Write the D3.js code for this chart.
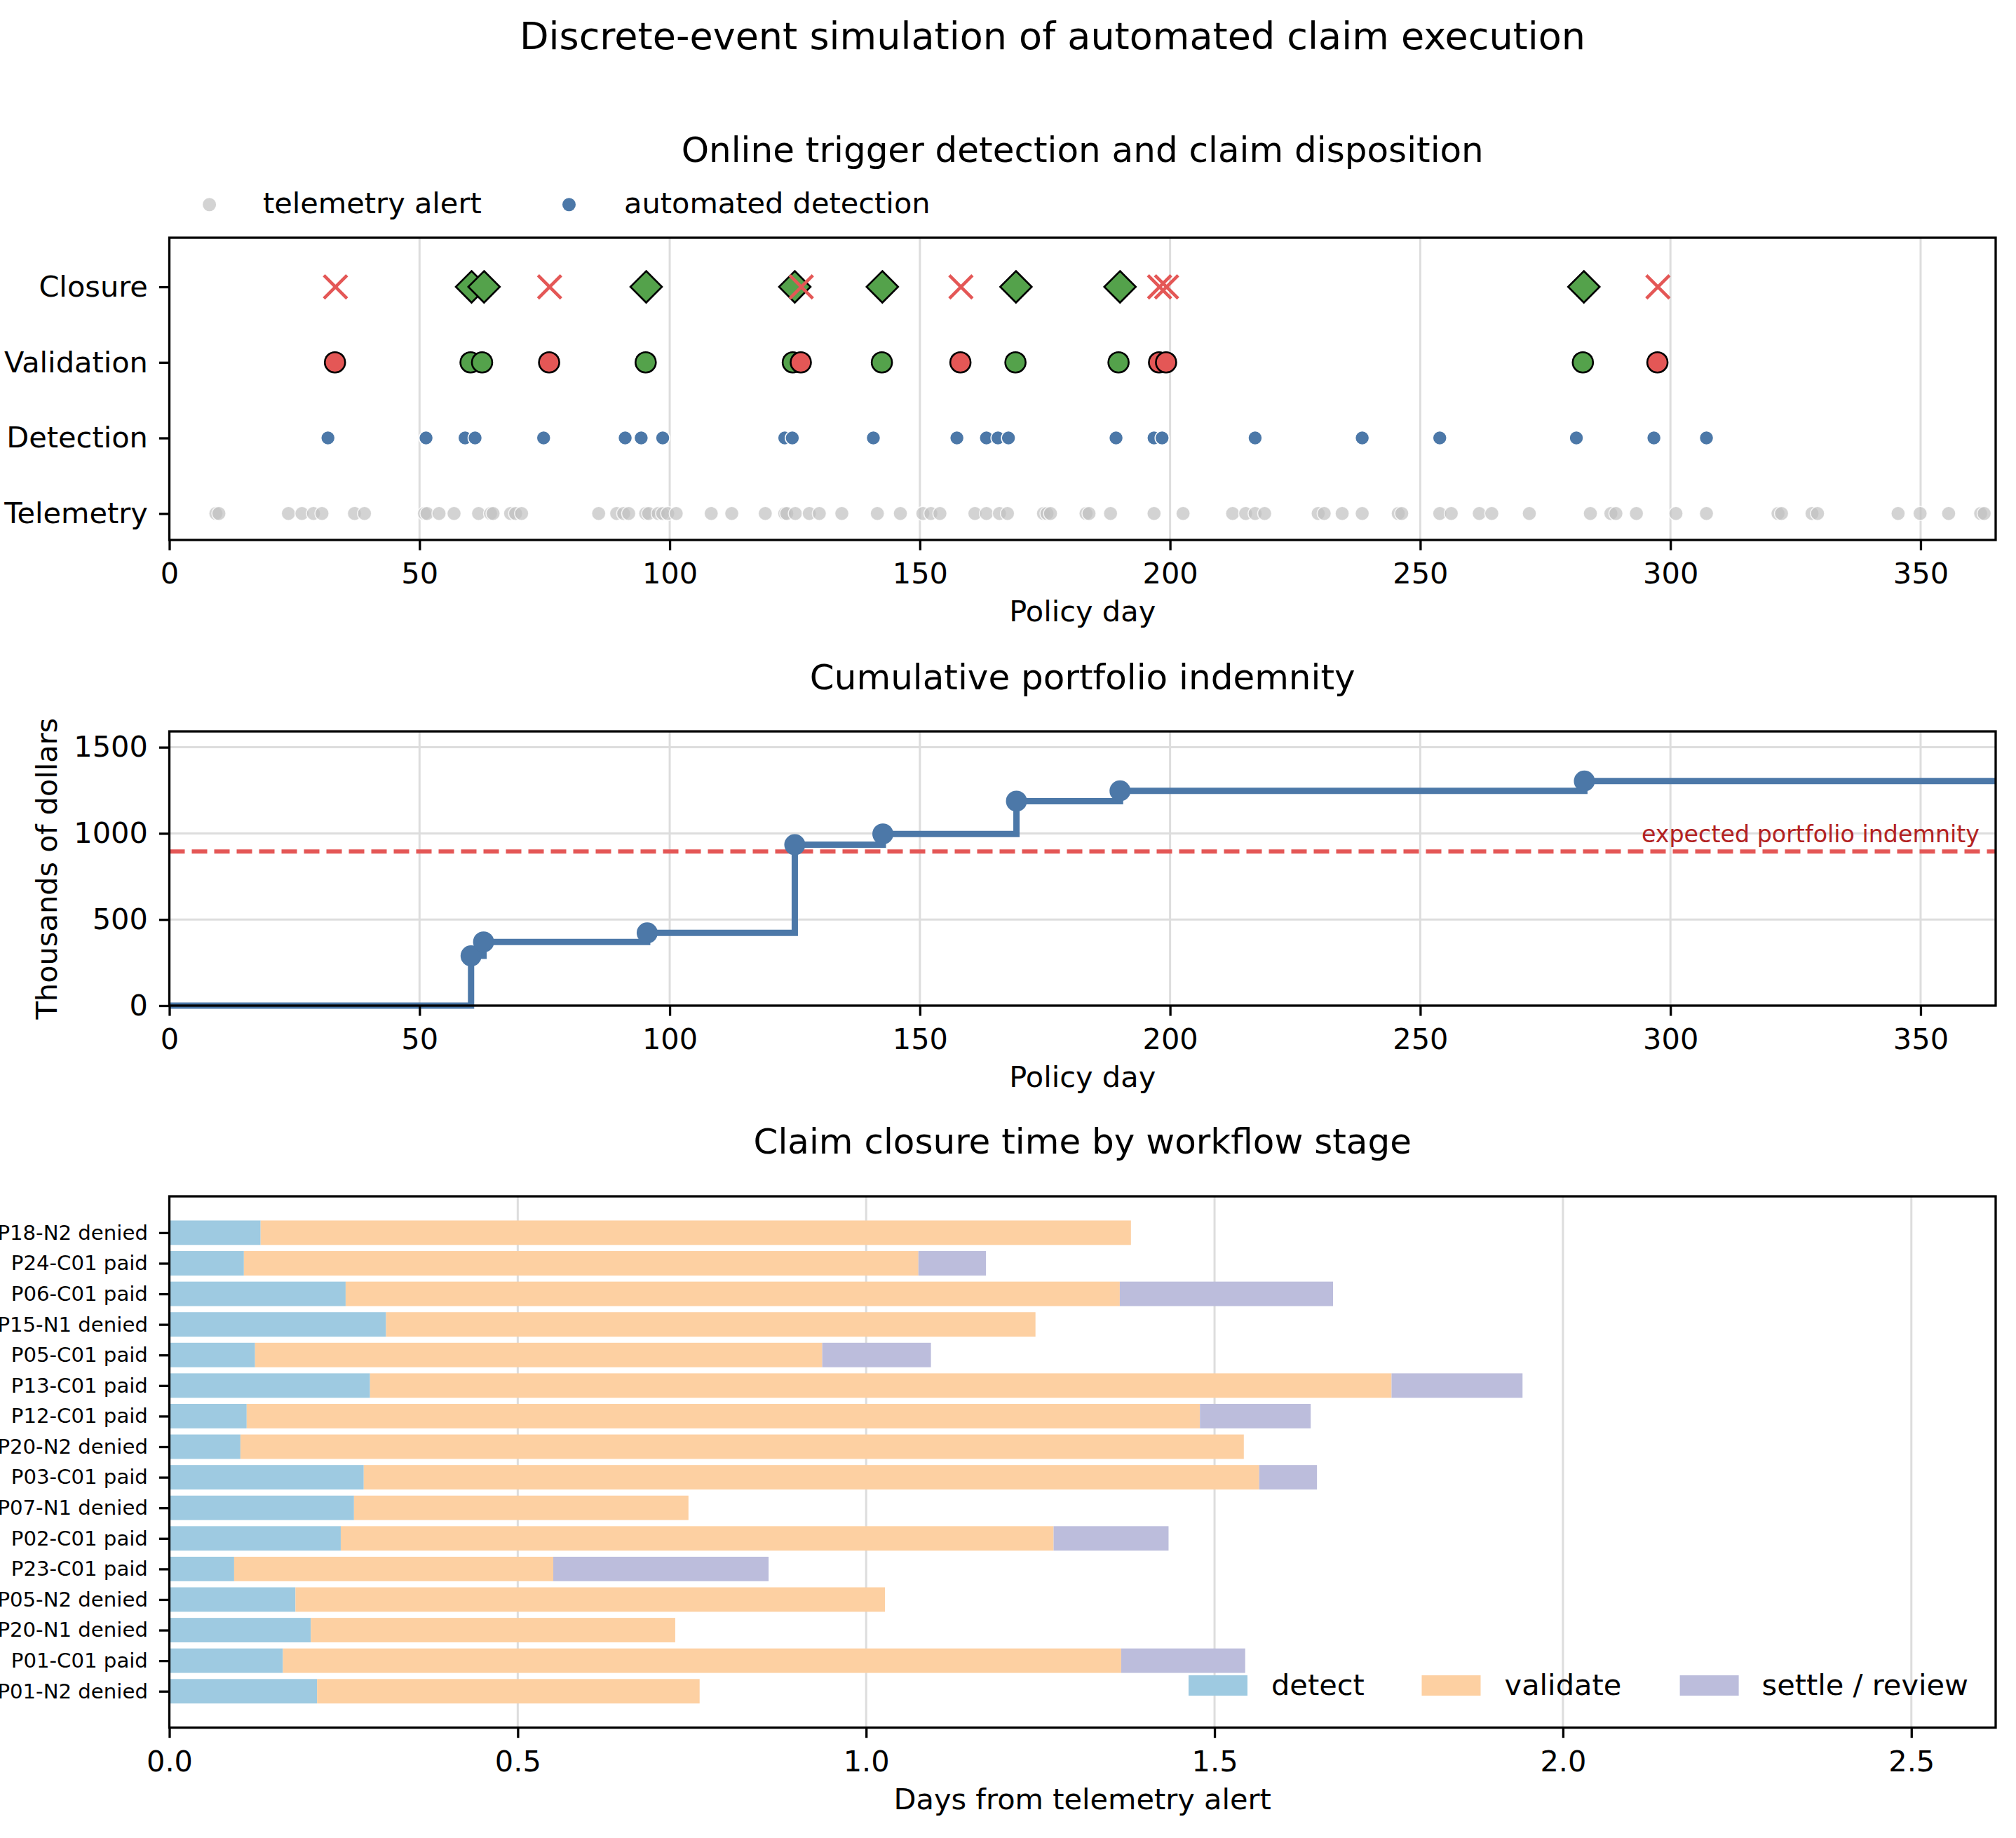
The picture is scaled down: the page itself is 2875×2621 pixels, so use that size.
<!DOCTYPE html>
<html><head><meta charset="utf-8">
<script src="https://cdn.jsdelivr.net/npm/d3@7"></script>
<style>
body{margin:0;background:#fff}
text{font-family:"DejaVu Sans",sans-serif;fill:#000}
</style>
</head><body>
<svg id="chart" width="2875" height="2621"></svg>
<script>
// ---------------- DATA ----------------
const figureTitle = "Discrete-event simulation of automated claim execution";
const stageRows = ["Telemetry", "Detection", "Validation", "Closure"];
const dayTicks = [0, 50, 100, 150, 200, 250, 300, 350];

const telemetryDays = [9.3, 9.9, 23.8, 26.5, 28.8, 30.5, 37.0, 39.0, 51.0, 51.5, 53.9, 56.9, 61.8, 64.2, 64.7,
  68.2, 69.2, 70.4, 85.8, 89.4, 90.8, 91.8, 95.2, 95.8, 97.7, 98.6, 99.6, 101.3, 108.3, 112.4, 119.1,
  123.0, 123.4, 125.1, 127.9, 129.9, 134.4, 141.5, 146.1, 150.6, 152.2, 154.0, 161.0, 163.3, 165.9,
  167.5, 174.7, 175.4, 176.1, 183.2, 183.8, 188.1, 196.8, 202.6, 212.5, 215.1, 217.0, 218.9, 229.6,
  230.8, 234.4, 238.4, 245.6, 246.3, 253.9, 256.2, 261.8, 264.3, 271.8, 284.0, 288.1, 289.1, 293.2,
  301.1, 307.2, 321.5, 322.2, 328.3, 329.4, 345.5, 349.9, 355.6, 362.0, 362.7];
const detectionDays = [31.7, 51.3, 59.1, 61.1, 74.8, 91.1, 94.3, 98.6, 123.0, 124.5, 140.7, 157.4, 163.3,
  165.6, 167.7, 189.2, 196.8, 198.4, 217.0, 238.4, 253.9, 281.2, 296.7, 307.2];
const validationDays = [33.1, 60.2, 62.5, 75.9, 95.2, 124.6, 126.2, 142.4, 158.1, 169.1, 189.7, 197.8, 199.2, 282.5, 297.4];
const validationOutcome = ["denied", "paid", "paid", "denied", "paid", "paid", "denied", "paid", "denied", "paid", "paid", "denied", "denied", "paid", "denied"];
const closureDays = [33.2, 60.4, 62.9, 76.0, 95.3, 125.0, 126.3, 142.5, 158.2, 169.2, 190.0, 197.9, 199.3, 282.7, 297.5];
const closureOutcome = validationOutcome.slice();

const payoutDays = [60.3, 62.8, 95.5, 125.0, 142.6, 169.3, 190.0, 282.8];
const cumulativeIndemnity = [289, 370, 422, 934, 997, 1187, 1247, 1304];
const expectedIndemnity = 895;
const indemnityTicks = [0, 500, 1000, 1500];

// claims listed top to bottom
const claimLabels = ["P18-N2 denied", "P24-C01 paid", "P06-C01 paid", "P15-N1 denied", "P05-C01 paid",
  "P13-C01 paid", "P12-C01 paid", "P20-N2 denied", "P03-C01 paid", "P07-N1 denied", "P02-C01 paid",
  "P23-C01 paid", "P05-N2 denied", "P20-N1 denied", "P01-C01 paid", "P01-N2 denied"];
const detectTime = [0.131, 0.107, 0.253, 0.311, 0.123, 0.288, 0.111, 0.102, 0.279, 0.265, 0.246, 0.093, 0.181, 0.203, 0.163, 0.212];
const validateTime = [1.249, 0.968, 1.111, 0.932, 0.814, 1.466, 1.368, 1.440, 1.285, 0.480, 1.023, 0.458, 0.846, 0.523, 1.203, 0.549];
const settleTime = [0, 0.097, 0.306, 0, 0.156, 0.188, 0.159, 0, 0.083, 0, 0.165, 0.309, 0, 0, 0.178, 0];
const durationTicks = [0, 0.5, 1.0, 1.5, 2.0, 2.5];
const stageNames = ["detect", "validate", "settle / review"];

// ---------------- STYLE ----------------
const C = {blue: "#4c78a8", red: "#e45756", green: "#54a24b", grid: "#dddddd",
  stage: ["#9ecae1", "#fdd0a2", "#bcbddc"], annot: "#b22222"};
const FS = {title: 54, sub: 50, label: 41.5, tick: 41.5, small: 29.2, annot: 33.3, legend: 41.5};
const TICK = 14.6, LW = 3.3;

const svg = d3.select("#chart");
svg.append("rect").attr("width", 2875).attr("height", 2621).attr("fill", "#fff");

const L = 241.5, R = 2846;

svg.append("text").attr("x", 1501).attr("y", 70).attr("text-anchor", "middle")
  .attr("font-size", FS.title).text(figureTitle);

function frame(g, top, bottom) {
  g.append("rect").attr("x", L).attr("y", top).attr("width", R - L).attr("height", bottom - top)
    .attr("fill", "none").attr("stroke", "#000").attr("stroke-width", LW);
}
function xAxis(g, scale, ticks, bottom, fmt) {
  const ax = d3.axisBottom(scale).tickValues(ticks).tickSize(TICK).tickPadding(18).tickFormat(fmt);
  const a = g.append("g").attr("transform", `translate(0,${bottom})`).call(ax);
  a.select(".domain").remove();
  a.selectAll(".tick line").attr("stroke-width", LW);
  a.selectAll("text").attr("font-size", FS.tick).attr("font-family", "DejaVu Sans");
}
function yAxis(g, scale, ticks, fmt, fs) {
  const ax = d3.axisLeft(scale).tickValues(ticks).tickSize(TICK).tickPadding(16).tickFormat(fmt);
  const a = g.append("g").attr("transform", `translate(${L},0)`).call(ax);
  a.select(".domain").remove();
  a.selectAll(".tick line").attr("stroke-width", LW);
  a.selectAll("text").attr("font-size", fs).attr("font-family", "DejaVu Sans");
}
function vgrid(g, scale, ticks, top, bottom) {
  g.append("g").selectAll("line").data(ticks).join("line")
    .attr("x1", d => scale(d)).attr("x2", d => scale(d)).attr("y1", top).attr("y2", bottom)
    .attr("stroke", C.grid).attr("stroke-width", 3);
}
function subTitle(g, txt, y) {
  g.append("text").attr("x", (L + R) / 2).attr("y", y).attr("text-anchor", "middle")
    .attr("font-size", FS.sub).text(txt);
}
function xLabel(g, txt, y) {
  g.append("text").attr("x", (L + R) / 2).attr("y", y).attr("text-anchor", "middle")
    .attr("font-size", FS.label).text(txt);
}

// ---------------- PANEL 1 ----------------
{
  const top = 339, bottom = 770;
  const g = svg.append("g");
  const x = d3.scaleLinear([0, 365], [L, R]);
  const y = d3.scaleLinear([-0.35, 3.65], [bottom, top]);
  vgrid(g, x, dayTicks, top, bottom);
  subTitle(g, "Online trigger detection and claim disposition", 231);

  g.append("g").selectAll("circle").data(telemetryDays).join("circle")
    .attr("cx", d => x(d)).attr("cy", y(0)).attr("r", 10)
    .attr("fill", "#c0c0c0").attr("fill-opacity", 0.7).attr("stroke", "#fff").attr("stroke-width", 1.5).attr("stroke-opacity", 0.8);
  g.append("g").selectAll("circle").data(detectionDays).join("circle")
    .attr("cx", d => x(d)).attr("cy", y(1)).attr("r", 10)
    .attr("fill", C.blue).attr("stroke", "#fff").attr("stroke-width", 1.5);
  g.append("g").selectAll("circle").data(validationDays).join("circle")
    .attr("cx", d => x(d)).attr("cy", y(2)).attr("r", 14.5)
    .attr("fill", (d, i) => validationOutcome[i] === "paid" ? C.green : C.red)
    .attr("stroke", "#000").attr("stroke-width", 2.6);
  const cg = g.append("g");
  closureDays.forEach((d, i) => {
    const cx = x(d), cy = y(3);
    if (closureOutcome[i] === "paid") {
      const h = 22.5;
      cg.append("path").attr("d", `M${cx},${cy - h}L${cx + h},${cy}L${cx},${cy + h}L${cx - h},${cy}Z`)
        .attr("fill", C.green).attr("stroke", "#000").attr("stroke-width", 2.6).attr("stroke-linejoin", "miter");
    } else {
      const h = 16.5;
      cg.append("path").attr("d", `M${cx - h},${cy - h}L${cx + h},${cy + h}M${cx - h},${cy + h}L${cx + h},${cy - h}`)
        .attr("stroke", C.red).attr("stroke-width", 4.6).attr("fill", "none");
    }
  });

  frame(g, top, bottom);
  xAxis(g, x, dayTicks, bottom, d3.format("d"));
  yAxis(g, y, [0, 1, 2, 3], i => stageRows[i], FS.tick);
  xLabel(g, "Policy day", 886);

  // legend
  const lg = g.append("g");
  lg.append("circle").attr("cx", 298.6).attr("cy", 291.7).attr("r", 9.5).attr("fill", "#c0c0c0").attr("fill-opacity", 0.7);
  lg.append("text").attr("x", 375).attr("y", 304).attr("font-size", FS.legend).text("telemetry alert");
  lg.append("circle").attr("cx", 811.5).attr("cy", 291.7).attr("r", 9.5).attr("fill", C.blue);
  lg.append("text").attr("x", 890).attr("y", 304).attr("font-size", FS.legend).text("automated detection");
}

// ---------------- PANEL 2 ----------------
{
  const top = 1043, bottom = 1434;
  const g = svg.append("g");
  const x = d3.scaleLinear([0, 365], [L, R]);
  const y = d3.scaleLinear([0, 1592], [bottom, top]);
  vgrid(g, x, dayTicks, top, bottom);
  g.append("g").selectAll("line").data(indemnityTicks).join("line")
    .attr("x1", L).attr("x2", R).attr("y1", d => y(d)).attr("y2", d => y(d))
    .attr("stroke", C.grid).attr("stroke-width", 3);
  subTitle(g, "Cumulative portfolio indemnity", 983);

  g.append("line").attr("x1", L).attr("x2", R).attr("y1", y(expectedIndemnity)).attr("y2", y(expectedIndemnity))
    .attr("stroke", C.red).attr("stroke-width", 6).attr("stroke-dasharray", "22,10");
  g.append("text").attr("x", 2823).attr("y", y(expectedIndemnity) - 13).attr("text-anchor", "end")
    .attr("font-size", FS.annot).style("fill", C.annot).text("expected portfolio indemnity");

  const pts = [[0, 0]].concat(payoutDays.map((d, i) => [d, cumulativeIndemnity[i]]))
    .concat([[365, cumulativeIndemnity[cumulativeIndemnity.length - 1]]]);
  const line = d3.line().x(d => x(d[0])).y(d => y(d[1])).curve(d3.curveStepAfter);
  g.append("path").attr("d", line(pts)).attr("fill", "none").attr("stroke", C.blue)
    .attr("stroke-width", 9).attr("stroke-linejoin", "miter");
  g.append("g").selectAll("circle").data(payoutDays).join("circle")
    .attr("cx", d => x(d)).attr("cy", (d, i) => y(cumulativeIndemnity[i])).attr("r", 15)
    .attr("fill", C.blue);

  frame(g, top, bottom);
  xAxis(g, x, dayTicks, bottom, d3.format("d"));
  yAxis(g, y, indemnityTicks, d3.format("d"), FS.tick);
  xLabel(g, "Policy day", 1550);
  g.append("text").attr("transform", `translate(81,${(top + bottom) / 2}) rotate(-90)`)
    .attr("text-anchor", "middle").attr("font-size", FS.label).text("Thousands of dollars");
}

// ---------------- PANEL 3 ----------------
{
  const top = 1706, bottom = 2463.6;
  const g = svg.append("g");
  const n = claimLabels.length;
  const x = d3.scaleLinear([0, 2.621], [L, R]);
  const y = d3.scaleLinear([-1.19, n + 0.19], [bottom, top]);
  const bandH = y(0) - y(0.8);
  vgrid(g, x, durationTicks, top, bottom);
  subTitle(g, "Claim closure time by workflow stage", 1645);

  const rows = claimLabels.map((lab, i) => ({lab, row: n - 1 - i, parts: [detectTime[i], validateTime[i], settleTime[i]]}));
  const bg = g.append("g");
  rows.forEach(r => {
    let start = 0;
    r.parts.forEach((v, k) => {
      if (v > 0) {
        bg.append("rect").attr("x", x(start)).attr("y", y(r.row + 0.4)).attr("width", x(start + v) - x(start))
          .attr("height", bandH).attr("fill", C.stage[k]);
      }
      start += v;
    });
  });

  frame(g, top, bottom);
  xAxis(g, x, durationTicks, bottom, d3.format(".1f"));
  yAxis(g, y, d3.range(n), r => claimLabels[n - 1 - r], FS.small);
  xLabel(g, "Days from telemetry alert", 2580);

  const legX = [1695, 2027.5, 2395.6], txtX = [1813, 2145.6, 2512.6];
  stageNames.forEach((s, k) => {
    g.append("rect").attr("x", legX[k]).attr("y", 2389).attr("width", 84).attr("height", 29).attr("fill", C.stage[k]);
    g.append("text").attr("x", txtX[k]).attr("y", 2417).attr("font-size", FS.legend).text(s);
  });
}
</script>
</body></html>
